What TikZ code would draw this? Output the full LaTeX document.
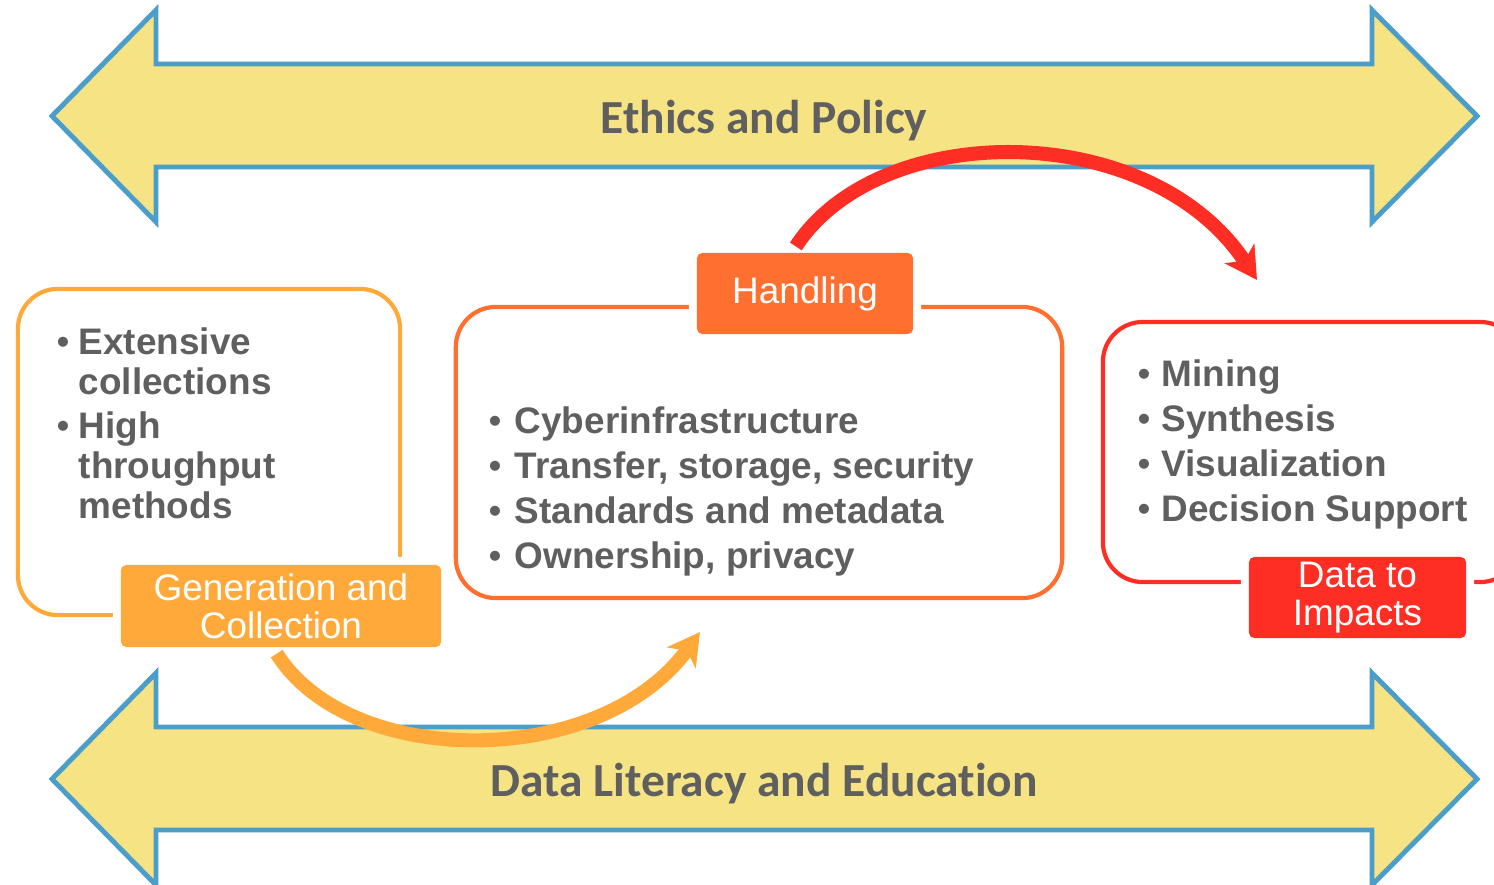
\documentclass[tikz,border=0pt]{standalone}
\usepackage{fontspec}
\setmainfont{Liberation Sans}
\newfontfamily\bandfont[Ligatures=CommonOff]{Carlito}
\usetikzlibrary{arrows.meta}
\definecolor{bandfill}{HTML}{F5E384}
\definecolor{bandline}{HTML}{4B9DCA}
\definecolor{genorange}{HTML}{FFA93B}
\definecolor{handorange}{HTML}{FF6F30}
\definecolor{impactred}{HTML}{FF2E24}
\definecolor{textgray}{HTML}{5F5F5F}
\newcommand{\bull}[1][0.2cm]{\makebox[#1][l]{\hspace*{-0.02cm}\mdseries\textbullet}}
\begin{document}
\begin{tikzpicture}[x=0.01cm, y=-0.01cm,
    band/.style ={draw=bandline, fill=bandfill, line width=1.4pt},
    bandtext/.style ={text=textgray, font=\bandfont\bfseries\fontsize{13.5}{16}\selectfont},
    box/.style ={draw, rounded corners=0.4cm, line width=1.2pt, inner sep=0pt},
    tag/.style ={rounded corners=1.5pt, text=white, inner sep=0pt, align=center,
      font=\fontsize{10.5}{10.8}\selectfont, preaction={draw=white, line width=0.16cm}},
    itemlist/.style ={anchor=north west, align=left, inner sep=0pt, text=textgray},
    flow/.style ={line width=4pt, shorten <=0.07cm, -{Stealth[length=9pt, width=10pt, inset=2.5pt]}}]
   \useasboundingbox (0,0) rectangle (1494,884);
   \draw[band] (52,116) -- (156,10) -- (156,64) -- (1372,64) -- (1372,10) -- (1477,116)
     -- (1372,222) -- (1372,167) -- (156,167) -- (156,222) -- cycle;
   \draw[band] (52,779) -- (156,673) -- (156,727) -- (1372,727) -- (1372,673) -- (1477,779)
     -- (1372,885) -- (1372,830) -- (156,830) -- (156,885) -- cycle;
   \node[bandtext] (ethics) at (764,121) {Ethics and Policy};
   \node[bandtext] (literacy) at (764,784) {Data Literacy and Education};
   \node[box, draw=genorange, minimum width=3.82cm, minimum height=3.26cm] (genbox) at (209,452) {};
   \node[box, draw=handorange, minimum width=6.06cm, minimum height=2.91cm] (handbox) at (759,452.5) {};
   \node[box, draw=impactred, minimum width=4.17cm, minimum height=2.6cm] (impactbox) at (1311.5,452) {};
   \node[itemlist, font=\bfseries\fontsize{10.5}{11.4}\selectfont] (genlist) at (58,327)
     {\bull Extensive\\ \hspace*{0.2cm}collections\\[0.04cm] \bull High\\
      \hspace*{0.2cm}throughput\\ \hspace*{0.2cm}methods};
   \node[itemlist, font=\bfseries\fontsize{10.5}{12.8}\selectfont] (handlist) at (490,406)
     {\bull[0.24cm]Cyberinfrastructure\\ \bull[0.24cm]Transfer, storage, security\\
      \bull[0.24cm]Standards and metadata\\ \bull[0.24cm]Ownership, privacy};
   \node[itemlist, font=\bfseries\fontsize{10.5}{12.8}\selectfont] (impactlist) at (1139,359)
     {\bull[0.22cm]Mining\\ \bull[0.22cm]Synthesis\\ \bull[0.22cm]Visualization\\
      \bull[0.22cm]Decision Support};
   \node[tag, fill=genorange, minimum width=3.2cm, minimum height=0.82cm] (gen) at (281,606)
     {Generation and\\Collection};
   \node[tag, fill=handorange, minimum width=2.16cm, minimum height=0.81cm] (hand) at (805,293.5)
     {Handling};
   \node[tag, fill=impactred, minimum width=2.17cm, minimum height=0.81cm] (impact) at (1357.5,597.5)
     {Data to\\Impacts};
   \coordinate (handin) at (700,632);
   \coordinate (impactin) at (1257,280);
   \draw[flow, genorange] ([xshift=-0.08cm]gen.south) .. controls (350,770) and (600,770) .. (handin);
   \draw[flow, impactred] ([xshift=-0.13cm]hand.north) .. controls (880,118) and (1150,118) .. (impactin);
 \end{tikzpicture}
\end{document}
